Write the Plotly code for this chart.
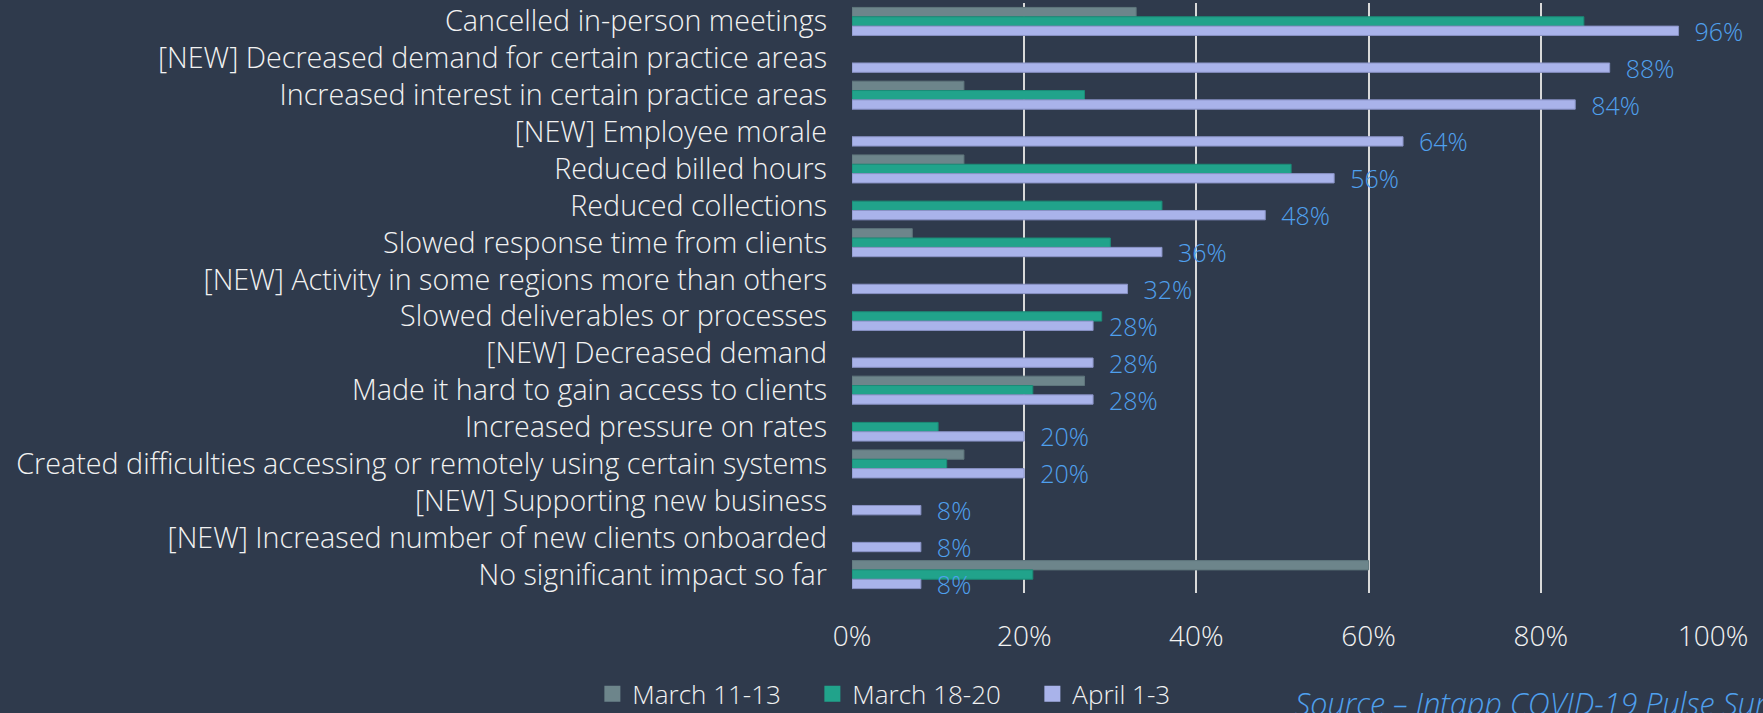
import plotly.graph_objects as go

categories = [
    "Cancelled in-person meetings",
    "[NEW] Decreased demand for certain practice areas",
    "Increased interest in certain practice areas",
    "[NEW] Employee morale",
    "Reduced billed hours",
    "Reduced collections",
    "Slowed response time from clients",
    "[NEW] Activity in some regions more than others",
    "Slowed deliverables or processes",
    "[NEW] Decreased demand",
    "Made it hard to gain access to clients",
    "Increased pressure on rates",
    "Created difficulties accessing or remotely using certain systems",
    "[NEW] Supporting new business",
    "[NEW] Increased number of new clients onboarded",
    "No significant impact so far",
]
march_11_13 = [33, None, 13, None, 13, None, 7, None, None, None, 27, None, 13, None, None, 60]
march_18_20 = [85, None, 27, None, 51, 36, 30, None, 29, None, 21, 10, 11, None, None, 21]
april_1_3 = [96, 88, 84, 64, 56, 48, 36, 32, 28, 28, 28, 20, 20, 8, 8, 8]

series_names = ["March 11-13", "March 18-20", "April 1-3"]
tick_vals = [0, 20, 40, 60, 80, 100]
tick_text = ["0%", "20%", "40%", "60%", "80%", "100%"]
source_text = "Source \u2013 Intapp COVID-19 Pulse Survey"

BG = "#2f3a4c"
FONT = "Open Sans"
W = 300
TEXT = "#f2f2f2"
colors = ["#6d858b", "#21a38b", "#a9b3ea"]
edges = ["#5f767c", "#1b8c77", "#8891c4"]

fig = go.Figure()
for name, vals, col, edge in zip(series_names, [march_11_13, march_18_20, april_1_3], colors, edges):
    kw = {}
    if name == "April 1-3":
        kw = dict(
            text=[f"\u00a0\u00a0{v}%" for v in vals],
            textposition="outside",
            textfont=dict(family=FONT, size=25, color="#4fa0ee", weight=W),
            constraintext="none",
            cliponaxis=False,
        )
    fig.add_trace(go.Bar(
        name=name, y=categories, x=vals, orientation="h",
        marker=dict(color=col, line=dict(color=edge, width=1)),
        hoverinfo="x+y", showlegend=False, legendgroup=name, **kw,
    ))

# legend entries (square swatches) for the three series
for name, col in zip(series_names, colors):
    fig.add_trace(go.Scatter(
        name=name, x=[None], y=[None], mode="markers",
        marker=dict(symbol="square", size=16, color=col),
        legendgroup=name, showlegend=True, hoverinfo="skip",
    ))

fig.update_layout(
    width=1763, height=713,
    paper_bgcolor=BG, plot_bgcolor=BG,
    barmode="group", bargap=0.24, bargroupgap=0,
    margin=dict(l=852, r=50, t=3, b=120, autoexpand=False),
    font=dict(family=FONT, color=TEXT, size=24, weight=W),
    showlegend=True,
    legend=dict(
        orientation="h", xref="container", yref="container",
        x=0.336, y=0.027, xanchor="left", yanchor="middle",
        font=dict(family=FONT, size=26, color=TEXT, weight=W),
        bgcolor="rgba(0,0,0,0)", itemwidth=30, traceorder="normal",
        entrywidth=175, entrywidthmode="pixels",
    ),
    xaxis=dict(
        range=[0, 100], tickvals=tick_vals, ticktext=tick_text,
        showgrid=True, gridcolor="#d9d9d9", gridwidth=1.5,
        zeroline=False, showline=False, ticks="",
        tickfont=dict(family=FONT, size=28, color=TEXT, weight=W),
        ticklabelstandoff=24, fixedrange=True,
    ),
    yaxis=dict(
        autorange="reversed", showgrid=False, zeroline=False, showline=False,
        ticks="", tickfont=dict(family=FONT, size=28.7, color=TEXT, weight=W),
        ticklabelstandoff=24, fixedrange=True,
    ),
    annotations=[dict(
        text=source_text, xref="paper", yref="paper",
        x=(1293 - 852) / 861, y=-(703 - 593) / 590, xanchor="left", yanchor="middle",
        showarrow=False,
        font=dict(family=FONT, size=30.5, color="#4fa0ee", style="italic", weight=W),
    )],
)

fig.write_html(
    "out.html",
    config={"displayModeBar": False},
    post_script="document.body.style.margin='0';document.body.style.overflow='hidden';",
)
